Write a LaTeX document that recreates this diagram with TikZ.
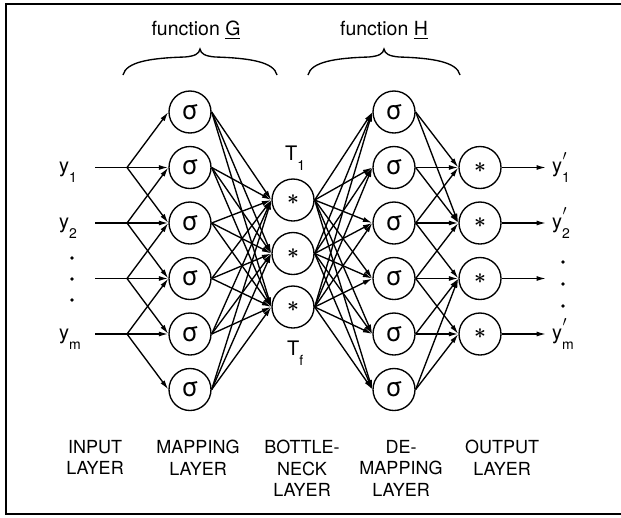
\documentclass[tikz,border=0pt]{standalone}
\usepackage{fontspec}
\usepackage{amsmath}
\setmainfont{TeX Gyre Heros}
\usetikzlibrary{arrows.meta}

\tikzset{
  unit/.style={draw, circle, line width=1.35pt, minimum size=42pt, inner sep=0pt},
  wire/.style={line width=1.35pt, -{Latex[length=9.5pt,width=5pt]}},
  varlabel/.style={anchor=base west, inner sep=0pt, font=\fontsize{20}{20}\selectfont},
  layername/.style={align=center, anchor=north, inner sep=0pt, font=\fontsize{18}{21.5}\selectfont},
  funclabel/.style={inner sep=0pt, font=\fontsize{19.5}{20}\selectfont},
}
\newcommand{\sig}{\fontsize{26}{26}\selectfont σ}
\newcommand{\mul}{\fontsize{22}{22}\selectfont $\boldsymbol{\ast}$}
\newcommand{\lowsub}[1]{\raisebox{-0.5em}{\fontsize{14}{14}\selectfont #1}}
\newcommand{\outsub}[1]{\rlap{\raisebox{0.62em}{\kern0.5pt\fontsize{15}{15}\selectfont$\prime$}}\lowsub{#1}}

\begin{document}
\begin{tikzpicture}[x=1pt,y=-1pt]
  \useasboundingbox (0,0) rectangle (621,517);
  % frame
  \draw[line width=1.4pt] (621,4) -- (6,4) -- (6,514) -- (621,514);

  % units
  \foreach \i/\y in {1/112,2/167.5,3/223,4/278.5,5/334,6/389.5} {
    \node[unit] (m\i) at (190,\y) {\sig};
    \node[unit] (d\i) at (394,\y) {\sig};
  }
  \foreach \i/\y in {1/200,2/253.5,3/307}
    \node[unit] (b\i) at (293,\y) {\mul};
  \foreach \i/\y in {1/167.5,2/223,3/278.5,4/334} {
    \node[unit] (o\i) at (480,\y) {\mul};
    \coordinate (s\i) at (95,\y);
    \coordinate (j\i) at (127,\y);
    \coordinate (e\i) at (546,\y);
  }

  % inputs and outputs
  \node[varlabel] (in1) at (59,172.5) {y\lowsub{1}};
  \node[varlabel] (in2) at (59,228) {y\lowsub{2}};
  \node[varlabel] (in4) at (59,339) {y\lowsub{m}};
  \node[varlabel] (out1) at (552,172.5) {y\outsub{1}};
  \node[varlabel] (out2) at (552,228) {y\outsub{2}};
  \node[varlabel] (out4) at (552,339) {y\outsub{m}};
  \node[varlabel] (t1) at (285,160) {T\lowsub{1}};
  \node[varlabel] (tf) at (287,355) {T\lowsub{f}};
  \foreach \y in {258,279,300} \fill (72,\y) circle (1.9pt);
  \foreach \y in {262,284,306} \fill (563,\y) circle (1.9pt);

  % input layer -> mapping layer
  \foreach \i in {1,...,4} {
    \draw[line width=1.35pt] (s\i) -- (j\i);
    \foreach \k in {0,1,2} {
      \pgfmathtruncatemacro\t{\i+\k}
      \draw[wire] (j\i) -- (m\t.west);
    }
  }
  % mapping -> bottleneck -> de-mapping
  \foreach \i in {1,...,6}
    \foreach \k in {1,2,3} {
      \draw[wire] (m\i.east) -- (b\k.west);
      \draw[wire] (b\k.east) -- (d\i.west);
    }
  % de-mapping -> output
  \foreach \i/\k in {1/1,1/2,2/1,2/2,3/1,3/2,3/3,4/2,4/3,4/4,5/3,5/4,6/3,6/4}
    \draw[wire] (d\i.east) -- (o\k.west);
  \foreach \i in {1,...,4}
    \draw[wire] (o\i.east) -- (e\i);

  % functions
  \node[funclabel] (fg) at (196,30) {function \underline{G}};
  \node[funclabel] (fh) at (384,30) {function \underline{H}};
  \draw[line width=1.35pt] (123,75) .. controls (126,62) and (150,58) .. (185,57)
    .. controls (195,56) and (199,54) .. (200,49)
    .. controls (201,54) and (205,56) .. (215,57)
    .. controls (250,58) and (274,62) .. (277,75);
  \draw[line width=1.35pt] (308,75) .. controls (311,62) and (335,58) .. (369,57)
    .. controls (379,56) and (383,54) .. (384,49)
    .. controls (385,54) and (389,56) .. (399,57)
    .. controls (433,58) and (457,62) .. (460,75);

  % layer names
  \node[layername] (lin) at (95,440) {INPUT\\LAYER};
  \node[layername] (lmap) at (198,440) {MAPPING\\LAYER};
  \node[layername] (lbot) at (302,440) {BOTTLE-\\NECK\\LAYER};
  \node[layername] (ldem) at (401,440) {DE-\\MAPPING\\LAYER};
  \node[layername] (lout) at (502,440) {OUTPUT\\LAYER};
\end{tikzpicture}
\end{document}
